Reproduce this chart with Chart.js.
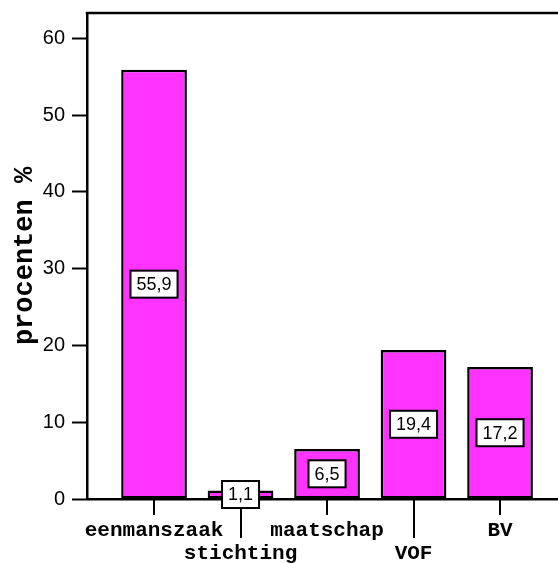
<!DOCTYPE html>
<html>
<head>
<meta charset="utf-8">
<script src="https://cdn.jsdelivr.net/npm/chart.js@4/dist/chart.umd.min.js"></script>
<style>
  html, body { margin: 0; padding: 0; background: #fff; }
  canvas { display: block; }
</style>
</head>
<body>
<canvas id="chart" width="558" height="563"></canvas>
<script>
// Rechtsvorm van de bedrijven, in procenten
const categories = ['eenmanszaak', 'stichting', 'maatschap', 'VOF', 'BV'];
const percentages = [55.9, 1.1, 6.5, 19.4, 17.2];
const yTicks = [0, 10, 20, 30, 40, 50, 60];

const BAR_FILL = '#ff33ff';
const INK = '#000000';

// Top frame line plus the staggered category tick marks
const framePlugin = {
  id: 'frame',
  afterDraw(chart) {
    const { ctx, chartArea, scales: { x } } = chart;
    ctx.save();
    ctx.strokeStyle = INK;
    ctx.lineWidth = 2.5;
    ctx.beginPath();
    ctx.moveTo(chartArea.left - 1.25, chartArea.top);
    ctx.lineTo(chartArea.right, chartArea.top);
    ctx.stroke();

    ctx.lineWidth = 2;
    categories.forEach((c, i) => {
      const px = Math.round(x.getPixelForValue(i));
      const len = i % 2 ? 39 : 16;
      ctx.beginPath();
      ctx.moveTo(px, chartArea.bottom);
      ctx.lineTo(px, chartArea.bottom + len);
      ctx.stroke();
    });
    ctx.restore();
  }
};

// Boxed value labels in the middle of each bar
const valueBoxPlugin = {
  id: 'valueBoxes',
  afterDraw(chart) {
    const { ctx } = chart;
    const meta = chart.getDatasetMeta(0);
    ctx.save();
    ctx.font = '18px "Liberation Sans", Arial, sans-serif';
    ctx.textAlign = 'center';
    ctx.textBaseline = 'middle';
    meta.data.forEach((bar, i) => {
      const { x, y, base } = bar.getProps(['x', 'y', 'base'], true);
      const cy = (y + base) / 2;
      const text = percentages[i].toFixed(1).replace('.', ',');
      const w = ctx.measureText(text).width + 12;
      const h = 27;
      ctx.fillStyle = '#ffffff';
      ctx.fillRect(x - w / 2, cy - h / 2, w, h);
      ctx.strokeStyle = INK;
      ctx.lineWidth = 2;
      ctx.strokeRect(x - w / 2, cy - h / 2, w, h);
      ctx.fillStyle = INK;
      ctx.fillText(text, x, cy + 1);
    });
    ctx.restore();
  }
};

new Chart(document.getElementById('chart'), {
  type: 'bar',
  data: {
    datasets: [{
      data: percentages.map((v, i) => ({ x: i, y: v })),
      backgroundColor: BAR_FILL,
      borderColor: INK,
      borderWidth: 2.5,
      borderSkipped: false,
      barPercentage: 0.76,
      categoryPercentage: 1
    }]
  },
  options: {
    responsive: false,
    devicePixelRatio: 1,
    animation: false,
    layout: { padding: { top: 13, right: 0, bottom: 0, left: 0 } },
    plugins: {
      legend: { display: false },
      tooltip: { enabled: false }
    },
    scales: {
      x: {
        type: 'linear',
        offset: false,
        min: -0.775,
        max: 4.67,
        afterBuildTicks(scale) {
          scale.ticks = categories.map((c, i) => ({ value: i }));
        },
        afterFit(scale) {
          scale.height = 64;
          scale.paddingLeft = 0;
          scale.paddingRight = 0;
        },
        grid: { display: true, drawOnChartArea: false, drawTicks: false },
        border: { color: INK, width: 2.5 },
        ticks: {
          autoSkip: false,
          maxRotation: 0,
          padding: 20,
          color: INK,
          font: { family: '"Liberation Mono", "Courier New", monospace', size: 21, weight: 'bold', lineHeight: 1.1 },
          callback: (v) => {
            const name = categories[Math.round(v)];
            return Math.round(v) % 2 ? ['', name] : name;
          }
        }
      },
      y: {
        min: 0,
        max: 63.3,
        afterBuildTicks(scale) {
          scale.ticks = yTicks.map(v => ({ value: v }));
        },
        afterFit(scale) {
          scale.width = 87;
          scale.paddingTop = 0;
          scale.paddingBottom = 0;
        },
        grid: { display: true, drawOnChartArea: false, tickLength: 15, tickColor: INK, tickWidth: 2 },
        border: { color: INK, width: 2.5 },
        ticks: {
          padding: 7,
          color: INK,
          font: { family: '"Liberation Sans", Arial, sans-serif', size: 20 }
        },
        title: {
          display: true,
          text: 'procenten %',
          color: INK,
          padding: { top: 9, bottom: 0 },
          font: { family: '"Liberation Mono", "Courier New", monospace', size: 27, weight: 'bold', lineHeight: 1.2 }
        }
      }
    }
  },
  plugins: [framePlugin, valueBoxPlugin]
});
</script>
</body>
</html>
